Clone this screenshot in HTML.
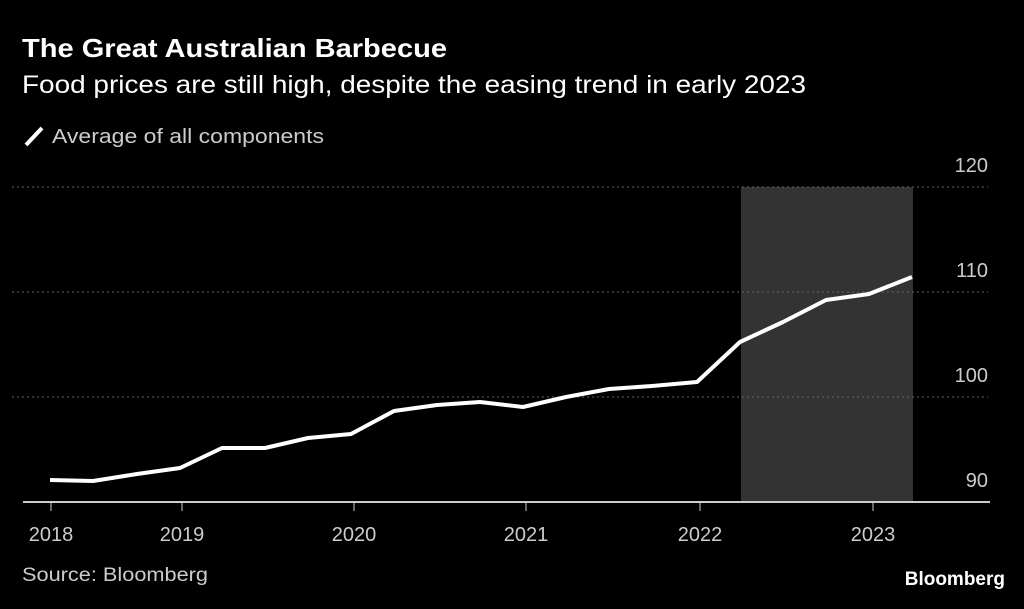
<!DOCTYPE html>
<html><head><style>
body{margin:0;background:#000;width:1024px;height:604px;overflow:hidden;font-family:"Liberation Sans",sans-serif;}
</style></head><body>
<svg width="1024" height="604" xmlns="http://www.w3.org/2000/svg" font-family="Liberation Sans, sans-serif">
<rect width="1024" height="604" fill="#000"/>
<text x="22" y="57" fill="#fff" font-size="26" font-weight="bold" textLength="425" lengthAdjust="spacingAndGlyphs">The Great Australian Barbecue</text>
<text x="22" y="93" fill="#fff" font-size="25" textLength="784" lengthAdjust="spacingAndGlyphs">Food prices are still high, despite the easing trend in early 2023</text>
<line x1="26" y1="145" x2="42" y2="128" stroke="#fff" stroke-width="4"/>
<text x="52" y="143" fill="#ccc" font-size="20" textLength="272" lengthAdjust="spacingAndGlyphs">Average of all components</text>
<rect x="741" y="187" width="172" height="315" fill="#333"/>
<g stroke="#666" stroke-width="1" stroke-dasharray="2,3">
<line x1="12" y1="187" x2="988" y2="187"/>
<line x1="12" y1="292" x2="988" y2="292"/>
<line x1="12" y1="397" x2="988" y2="397"/>
</g>
<g fill="#ccc" font-size="20" text-anchor="end">
<text x="988" y="172">120</text>
<text x="988" y="277">110</text>
<text x="988" y="382">100</text>
<text x="988" y="487">90</text>
</g>
<line x1="23" y1="502" x2="990" y2="502" stroke="#ccc" stroke-width="2"/>
<g stroke="#ccc" stroke-width="1">
<line x1="51" y1="502" x2="51" y2="511"/><line x1="182" y1="502" x2="182" y2="511"/>
<line x1="354" y1="502" x2="354" y2="511"/><line x1="526" y1="502" x2="526" y2="511"/>
<line x1="700" y1="502" x2="700" y2="511"/><line x1="873" y1="502" x2="873" y2="511"/>
</g>
<g fill="#ccc" font-size="20" text-anchor="middle">
<text x="51" y="541">2018</text><text x="182" y="541">2019</text><text x="354" y="541">2020</text>
<text x="526" y="541">2021</text><text x="700" y="541">2022</text><text x="873" y="541">2023</text>
</g>
<polyline fill="none" stroke="#fff" stroke-width="4" stroke-linejoin="round" points="50,480 93,481 137,474 180,468 222,448 265,448 308,438 351,434 394,411 437,405 480,402 523,407 566,397 609,389 652,386 697,382 740,342 783,322 826,300 869,294 912,277"/>
<text x="22" y="581" fill="#ccc" font-size="19" textLength="186" lengthAdjust="spacingAndGlyphs">Source: Bloomberg</text>
<text x="1005" y="585" fill="#fff" font-size="19" font-weight="bold" text-anchor="end">Bloomberg</text>
</svg>
</body></html>
